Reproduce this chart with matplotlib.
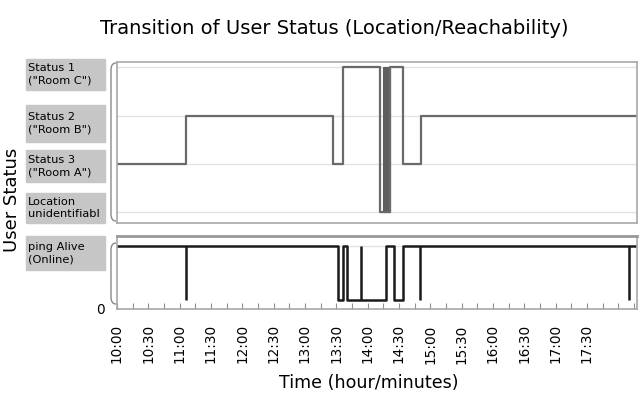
import matplotlib
matplotlib.use("Agg")
import matplotlib.pyplot as plt
from matplotlib.patches import Rectangle, PathPatch
from matplotlib.path import Path
from matplotlib.ticker import MultipleLocator

# levels: 3 = Status 1 (Room C), 2 = Status 2 (Room B), 1 = Status 3 (Room A), 0 = unidentifiable
status_times = ["10:00", "11:06", "13:27", "13:36", "14:12", "14:21", "14:34", "14:51", "18:18"]
status_levels = [1, 2, 1, 3, 0, 3, 1, 2, 2]
flicker_start = "14:15"
flicker_end = "14:21"

# ping: 1 = alive, 0 = no answer
ping_times = ["10:00", "13:32", "13:36", "13:40", "14:18", "14:25", "14:34", "18:18"]
ping_levels = [1, 0, 1, 0, 1, 0, 1, 1]
ping_blips = ["11:06", "13:54", "14:50", "18:10"]

status_labels = ['Status 1\n("Room C")', 'Status 2\n("Room B")',
                 'Status 3\n("Room A")', 'Location\nunidentifiabl']
ping_label = 'ping Alive\n(Online)'
tick_labels = ["10:00", "10:30", "11:00", "11:30", "12:00", "12:30", "13:00", "13:30",
               "14:00", "14:30", "15:00", "15:30", "16:00", "16:30", "17:00", "17:30"]

W, H = 642, 416


def to_min(t):
    h, m = t.split(":")
    return (int(h) - 10) * 60 + int(m)


def fx(x):
    return x / W


def fy(y):
    return 1 - y / H


fig = plt.figure(figsize=(W / 100, H / 100), dpi=100)
ax1 = fig.add_axes([fx(117), fy(223), fx(637) - fx(117), fy(62) - fy(223)])
ax2 = fig.add_axes([fx(117), fy(309), fx(637) - fx(117), fy(236) - fy(309)])

xmax = to_min(status_times[-1])

# top panel
for lv in range(4):
    ax1.axhline(lv, color="#e2e2e2", lw=1, zorder=0)
ax1.step([to_min(t) for t in status_times], status_levels, where="post",
         color="#6a6a6a", lw=1.6)
f0 = to_min(flicker_start)
ax1.bar(f0, 3, width=to_min(flicker_end) - f0, bottom=0, align="edge",
        color="#5e5e5e", edgecolor="#5e5e5e", lw=0.8)
ax1.set_xlim(0, xmax)
ax1.set_ylim(-0.228, 3.11)
ax1.set_xticks([])
ax1.set_yticks([])

# bottom panel
ax2.axhline(1, color="#e2e2e2", lw=1, zorder=0)
ax2.step([to_min(t) for t in ping_times], ping_levels, where="post",
         color="#1a1a1a", lw=1.8)
ax2.vlines([to_min(t) for t in ping_blips], 0, 1, color="#1a1a1a", lw=1.8)
ax2.set_xlim(0, xmax)
ax2.set_ylim(-0.166, 1.18)
ax2.set_xticks(range(0, 30 * len(tick_labels), 30))
ax2.set_xticklabels(tick_labels, rotation=90, fontsize=9.8)
ax2.xaxis.set_minor_locator(MultipleLocator(15))
ax2.tick_params(axis="x", which="both", direction="in", length=4, width=0.8,
                color="#909090", pad=11)
ax2.set_yticks([-0.166])
ax2.set_yticklabels(["0"], fontsize=9.8)
ax2.tick_params(axis="y", length=0, pad=9)

for ax in (ax1, ax2):
    for s in ax.spines.values():
        s.set_color("#a8a8a8")
        s.set_linewidth(1.2)
ax2.spines["top"].set_linewidth(2)
ax2.spines["top"].set_color("#999999")

# label boxes on the left
boxes = [(59, 90), (105, 142), (150, 182), (193, 223)]
for (top, bot), txt in zip(boxes, status_labels):
    fig.patches.append(Rectangle((fx(26), fy(bot)), fx(105) - fx(26), fy(top) - fy(bot),
                                 transform=fig.transFigure, color="#c6c6c6", zorder=0))
    fig.text(fx(28), fy((top + bot) / 2), txt, fontsize=8.2, va="center", ha="left",
             linespacing=1.35)
fig.patches.append(Rectangle((fx(26), fy(270)), fx(105) - fx(26), fy(236) - fy(270),
                             transform=fig.transFigure, color="#c6c6c6", zorder=0))
fig.text(fx(28), fy(253), ping_label, fontsize=8.2, va="center", ha="left", linespacing=1.35)


# brackets left of each panel
def bracket(top, bot):
    verts = [(fx(116), fy(top)), (fx(111), fy(top)), (fx(111), fy(top + 7)),
             (fx(111), fy(bot - 7)), (fx(111), fy(bot)), (fx(116), fy(bot))]
    codes = [Path.MOVETO, Path.CURVE3, Path.CURVE3, Path.LINETO, Path.CURVE3, Path.CURVE3]
    fig.patches.append(PathPatch(Path(verts, codes), transform=fig.transFigure,
                                 fill=False, edgecolor="#8a8a8a", lw=1))


bracket(63, 221)
bracket(243, 304)

fig.text(fx(334), fy(28), "Transition of User Status (Location/Reachability)",
         fontsize=14, ha="center", va="center")
fig.text(fx(369), fy(383), "Time (hour/minutes)", fontsize=12.6, ha="center", va="center")
fig.text(fx(12), fy(200), "User Status", fontsize=13, rotation=90, ha="center", va="center")

fig.savefig("out.png", dpi=100)
